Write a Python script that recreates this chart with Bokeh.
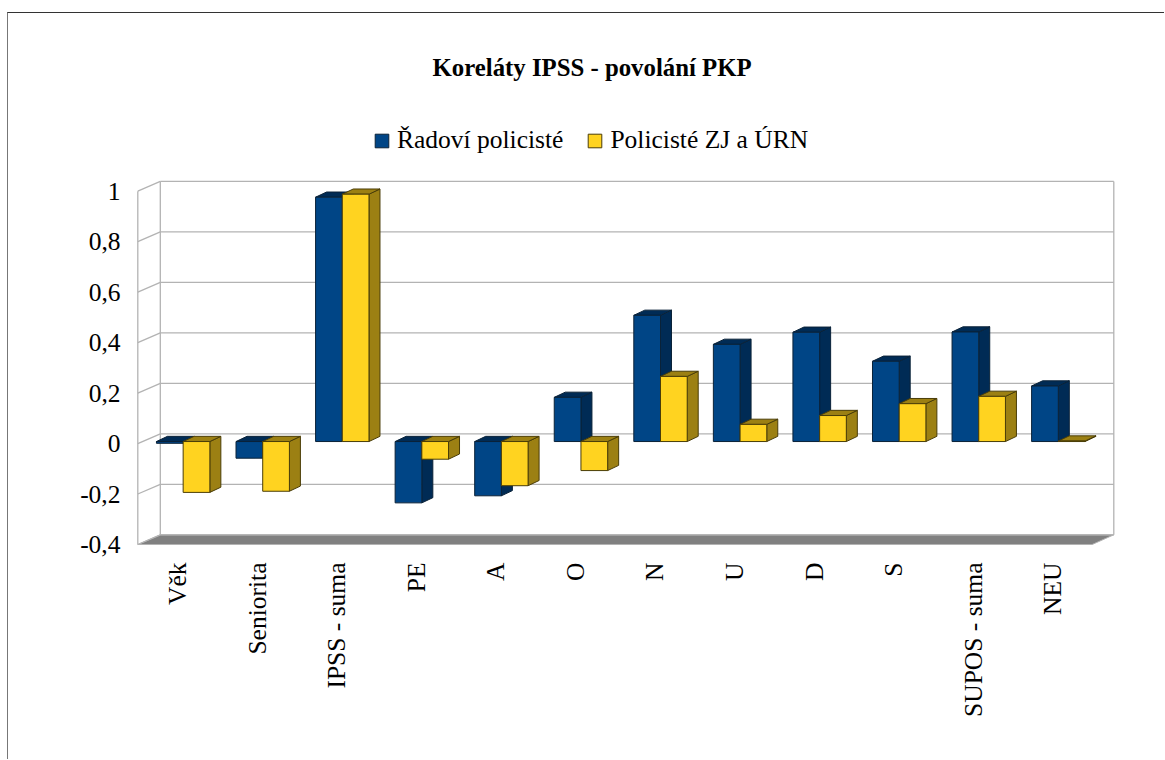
import math
from bokeh.plotting import figure
from bokeh.embed import file_html
from bokeh.resources import INLINE
from bokeh.models import (FixedTicker, Legend, LegendItem, Range1d)

categories = ["Věk", "Seniorita", "IPSS - suma", "PE", "A", "O", "N", "U", "D", "S", "SUPOS - suma", "NEU"]
radovi = [-0.007, -0.066, 0.968, -0.243, -0.215, 0.175, 0.50, 0.385, 0.433, 0.318, 0.434, 0.22]
zj_urn = [-0.2015, -0.197, 0.98, -0.07, -0.175, -0.115, 0.258, 0.068, 0.103, 0.15, 0.179, 0.002]
series_names = ["Řadoví policisté", "Policisté ZJ a ÚRN"]
y_ticks = [-0.4, -0.2, 0, 0.2, 0.4, 0.6, 0.8, 1]
y_labels = ["-0,4", "-0,2", "0", "0,2", "0,4", "0,6", "0,8", "1"]

PX_CAT = 79.56
PX_UNIT = 252.4
X0 = 138.3
Y_FLOOR = 544.0
W, H = 1165, 760
FRAME_L, FRAME_R, FRAME_T, FRAME_B = 130, 1118, 100, 546

def ux(px):
    return (px - X0) / PX_CAT

def uy(py):
    return -0.4 + (Y_FLOOR - py) / PX_UNIT

WALL_DX = 22.5 / PX_CAT
WALL_DY = 9.7 / PX_UNIT
XR = ux(1114.3)
XF = ux(1092.7)
BAR_W = 26.7 / PX_CAT
DEPTH_X = 11.0 / PX_CAT
DEPTH_Y = 5.2 / PX_UNIT
BASE = 2.0 / PX_UNIT
GRID = "#b3b3b3"

p = figure(width=W - 8, height=H - 13, output_backend="svg", toolbar_location=None,
           x_range=Range1d(ux(FRAME_L), ux(FRAME_R)), y_range=Range1d(uy(FRAME_B), uy(FRAME_T)),
           min_border_left=FRAME_L - 9, min_border_right=W - FRAME_R + 1,
           min_border_top=FRAME_T - 13, min_border_bottom=H - FRAME_B,
           background_fill_color="white", border_fill_color="white",
           outline_line_color=None, margin=(12, 0, 0, 7),
           styles={"border-top": "1px solid #333333", "border-left": "1px solid #777777"})
p.grid.visible = False

# title
p.title.text = "Koreláty IPSS - povolání PKP"
p.title.text_font = "Liberation Serif"
p.title.text_font_style = "bold"
p.title.text_font_size = "24.8px"
p.title.text_color = "black"
p.title.align = "left"
p.title.offset = 433 - FRAME_L
p.title.standoff = 40

# axes
ya = p.yaxis[0]
ya.ticker = FixedTicker(ticks=y_ticks)
ya.major_label_overrides = {t: l for t, l in zip(y_ticks, y_labels)}
ya.axis_line_color = None
ya.major_tick_line_color = None
ya.minor_tick_line_color = None
ya.major_label_text_font = "Liberation Serif"
ya.major_label_text_font_size = "25.5px"
ya.major_label_text_color = "black"
ya.major_label_standoff = 3

xa = p.xaxis[0]
xpos = [i + 0.5 for i in range(len(categories))]
xa.ticker = FixedTicker(ticks=xpos)
xa.major_label_overrides = {t: c for t, c in zip(xpos, categories)}
xa.major_label_orientation = math.pi / 2
xa.axis_line_color = None
xa.major_tick_line_color = None
xa.minor_tick_line_color = None
xa.major_label_text_font = "Liberation Serif"
xa.major_label_text_font_size = "25.5px"
xa.major_label_text_color = "black"
xa.major_label_standoff = 10

# walls and floor
bottom, top = y_ticks[0], y_ticks[-1]
p.patch([0, WALL_DX, XR, XF], [bottom, bottom + WALL_DY, bottom + WALL_DY, bottom],
        fill_color="#808080", line_color=GRID, line_width=1)
p.segment(x0=[0] * len(y_ticks), y0=y_ticks, x1=[WALL_DX] * len(y_ticks),
          y1=[t + WALL_DY for t in y_ticks], line_color=GRID, line_width=1.3)
p.segment(x0=[WALL_DX] * len(y_ticks), y0=[t + WALL_DY for t in y_ticks],
          x1=[XR] * len(y_ticks), y1=[t + WALL_DY for t in y_ticks], line_color=GRID, line_width=1.3)
p.segment(x0=[0, WALL_DX, XR], y0=[bottom, bottom + WALL_DY, bottom + WALL_DY],
          x1=[0, WALL_DX, XR], y1=[top, top + WALL_DY, top + WALL_DY], line_color=GRID, line_width=1.3)

# bars
def draw_series(values, left_offset, front, side, top_face, edge):
    xs_side, ys_side, xs_top, ys_top = [], [], [], []
    lefts, rights, tops, bottoms = [], [], [], []
    for i, v in enumerate(values):
        l = i + left_offset
        r = l + BAR_W
        hi = max(v, 0) + BASE
        lo = min(v, 0) + BASE
        lefts.append(l); rights.append(r); tops.append(hi); bottoms.append(lo)
        xs_side.append([r, r + DEPTH_X, r + DEPTH_X, r])
        ys_side.append([lo, lo + DEPTH_Y, hi + DEPTH_Y, hi])
        xs_top.append([l, l + DEPTH_X, r + DEPTH_X, r])
        ys_top.append([hi, hi + DEPTH_Y, hi + DEPTH_Y, hi])
    p.patches(xs_side, ys_side, fill_color=side, line_color=edge, line_width=1)
    p.patches(xs_top, ys_top, fill_color=top_face, line_color=edge, line_width=1)
    return p.quad(left=lefts, right=rights, top=tops, bottom=bottoms,
                  fill_color=front, line_color=edge, line_width=1)

r1 = draw_series(radovi, 0.57 - BAR_W, "#004586", "#002b55", "#002b55", "#0a2238")
r2 = draw_series(zj_urn, 0.57, "#ffd320", "#9c8013", "#9c8013", "#4a3d08")

legend = Legend(items=[LegendItem(label=series_names[0], renderers=[r1]),
                       LegendItem(label=series_names[1], renderers=[r2])],
                orientation="horizontal", location=(374 - FRAME_L, FRAME_B - 155),
                background_fill_alpha=0, border_line_color=None, padding=0, margin=0,
                spacing=23, label_standoff=7, glyph_width=17, glyph_height=17,
                label_text_font="Liberation Serif", label_text_font_size="25.5px",
                label_text_color="black")
p.add_layout(legend, "center")

open("out.html", "w").write(file_html(p, INLINE))
